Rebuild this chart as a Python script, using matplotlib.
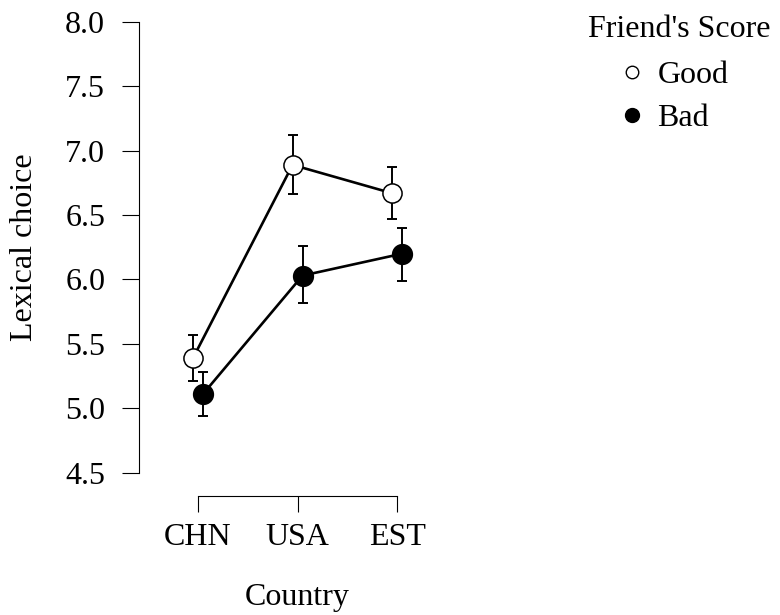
import matplotlib
matplotlib.use("Agg")
import matplotlib.pyplot as plt
from matplotlib.lines import Line2D

plt.rcParams['font.family'] = ['Liberation Serif', 'DejaVu Serif']

# data
countries = ["CHN", "USA", "EST"]
good_mean = [5.39, 6.89, 6.67]
good_lo = [5.21, 6.66, 6.47]
good_hi = [5.57, 7.12, 6.87]
bad_mean = [5.11, 6.03, 6.20]
bad_lo = [4.94, 5.82, 5.99]
bad_hi = [5.28, 6.26, 6.40]
y_ticks = [4.5, 5.0, 5.5, 6.0, 6.5, 7.0, 7.5, 8.0]
legend_title = "Friend's Score"
group_labels = ["Good", "Bad"]

FS = 23
dodge = 0.05

fig = plt.figure(figsize=(7.8, 6.15), dpi=100)
ax = fig.add_axes([0.1776, 0.194, 0.408, 0.7702])

x = range(len(countries))
xg = [i - dodge for i in x]
xb = [i + dodge for i in x]

# error bars first, then lines and points on top
for xs, m, lo, hi in [(xg, good_mean, good_lo, good_hi), (xb, bad_mean, bad_lo, bad_hi)]:
    err = [[mv - l for mv, l in zip(m, lo)], [h - mv for mv, h in zip(m, hi)]]
    ax.errorbar(xs, m, yerr=err, fmt='none', ecolor='black', elinewidth=1.4,
                capsize=3.8, capthick=1.4, zorder=2, clip_on=False)

ax.plot(xg, good_mean, color='black', lw=1.9, marker='o', ms=13.8,
        mfc='white', mec='black', mew=1.1, zorder=3, clip_on=False)
ax.plot(xb, bad_mean, color='black', lw=1.9, marker='o', ms=14.2,
        mfc='black', mec='black', mew=1.1, zorder=3, clip_on=False)

ax.set_xlim(-0.598, 2.6)
ax.set_ylim(4.32, 8.0)
ax.set_xticks(list(x))
ax.set_xticklabels(countries, fontsize=FS)
ax.set_yticks(y_ticks)
ax.set_yticklabels([f"{v:.1f}" for v in y_ticks], fontsize=FS)

for s in ['top', 'right']:
    ax.spines[s].set_visible(False)
ax.spines['left'].set_bounds(4.5, 8.0)
ax.spines['bottom'].set_bounds(0, 2)
for s in ['left', 'bottom']:
    ax.spines[s].set_linewidth(0.8)
    ax.spines[s].set_color('black')
ax.tick_params(axis='y', length=12, width=0.8, pad=12)
ax.tick_params(axis='x', length=11.5, width=0.8, pad=8)

fig.text(25 / 780, 1 - 247 / 615, "Lexical choice", rotation=90,
         ha='center', va='center', fontsize=FS)
fig.text(297.5 / 780, 1 - 598 / 615, "Country", ha='center', va='center', fontsize=FS)

# legend
fig.text(679 / 780, 1 - 37 / 615, legend_title, ha='center', va='baseline', fontsize=FS)
handles = [
    Line2D([], [], ls='none', marker='o', ms=9, mfc='white', mec='black', mew=1.0),
    Line2D([], [], ls='none', marker='o', ms=10, mfc='black', mec='black', mew=1.0),
]
fig.legend(handles, group_labels, loc='upper left', bbox_to_anchor=(616 / 780, 1 - 61 / 615),
           frameon=False, fontsize=FS, handlelength=1.0, handletextpad=0.3,
           borderpad=0, labelspacing=0.42, borderaxespad=0)

fig.savefig("out.png", dpi=100)
